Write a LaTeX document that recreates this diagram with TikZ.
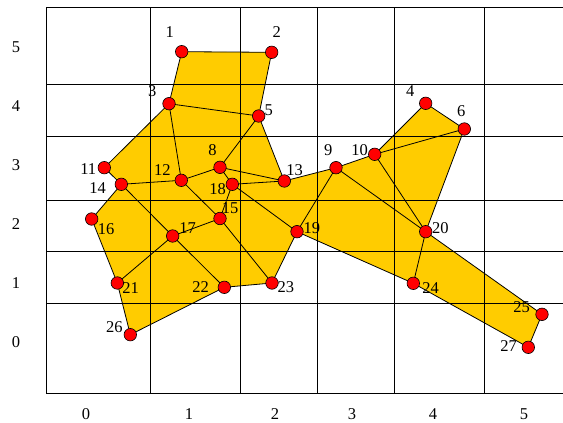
\documentclass[tikz,border=0pt]{standalone}
\usepackage{fontspec}
\setmainfont{Liberation Serif}
\usetikzlibrary{backgrounds}
\definecolor{fillc}{RGB}{255,204,0}
\tikzset{
  vtx/.style={circle,fill=red,draw=black,line width=0.6pt,minimum size=12.5pt,inner sep=0pt},
  lbl/.style={inner sep=0pt,font=\fontsize{16.5}{19}\selectfont},
  gridline/.style={draw=black,line width=0.9pt},
  edge/.style={draw=black,line width=0.8pt}
}
\begin{document}
\begin{tikzpicture}[x=1pt,y=-1pt]
\useasboundingbox (0,0) rectangle (563,423);
% vertices
\node[vtx] (n1) at (181.7,51.7) {};
\node[vtx] (n2) at (271.7,52.3) {};
\node[vtx] (n3) at (169,103.7) {};
\node[vtx] (n4) at (425.7,103.3) {};
\node[vtx] (n5) at (258.7,116) {};
\node[vtx] (n6) at (464.3,129) {};
\node[vtx] (n8) at (220,167.3) {};
\node[vtx] (n9) at (336,167.7) {};
\node[vtx] (n10) at (374.7,154.3) {};
\node[vtx] (n11) at (104.3,167.7) {};
\node[vtx] (n12) at (181.3,180.3) {};
\node[vtx] (n13) at (284.3,181) {};
\node[vtx] (n14) at (121.3,184.3) {};
\node[vtx] (n15) at (220,218.5) {};
\node[vtx] (n16) at (91.7,219) {};
\node[vtx] (n17) at (172.7,236) {};
\node[vtx] (n18) at (232.3,184.3) {};
\node[vtx] (n19) at (297,231.7) {};
\node[vtx] (n20) at (425.7,231.7) {};
\node[vtx] (n21) at (117.3,283) {};
\node[vtx] (n22) at (224.3,287.3) {};
\node[vtx] (n23) at (272,283) {};
\node[vtx] (n24) at (413.3,283.3) {};
\node[vtx] (n25) at (542,314.3) {};
\node[vtx] (n26) at (130.3,334.7) {};
\node[vtx] (n27) at (528.3,347.3) {};
% vertex labels
\node[lbl] (t1) at (169.7,31.7) {1};
\node[lbl] (t2) at (276.7,31.7) {2};
\node[lbl] (t3) at (152.3,90.7) {3};
\node[lbl] (t4) at (410.3,90.7) {4};
\node[lbl] (t5) at (268.7,110) {5};
\node[lbl] (t6) at (461.3,110.7) {6};
\node[lbl] (t8) at (212.5,150) {8};
\node[lbl] (t9) at (328.3,149.7) {9};
\node[lbl] (t10) at (359.7,149.7) {10};
\node[lbl] (t11) at (88.3,169) {11};
\node[lbl] (t12) at (162.3,170) {12};
\node[lbl] (t13) at (294.5,170) {13};
\node[lbl] (t14) at (97.7,188.3) {14};
\node[lbl] (t15) at (230,208.3) {15};
\node[lbl] (t16) at (106,228.7) {16};
\node[lbl] (t17) at (187.5,228.5) {17};
\node[lbl] (t18) at (217.5,189) {18};
\node[lbl] (t19) at (311.8,228.3) {19};
\node[lbl] (t20) at (440.3,227.7) {20};
\node[lbl] (t21) at (130.7,288.3) {21};
\node[lbl] (t22) at (200.5,287) {22};
\node[lbl] (t23) at (285.8,286.8) {23};
\node[lbl] (t24) at (430.7,287.7) {24};
\node[lbl] (t25) at (521.7,307) {25};
\node[lbl] (t26) at (114.3,326.7) {26};
\node[lbl] (t27) at (508.7,346) {27};
% axis labels
\node[lbl] (y5) at (16,47) {5};
\node[lbl] (y4) at (16,106) {4};
\node[lbl] (y3) at (16,165) {3};
\node[lbl] (y2) at (16,224) {2};
\node[lbl] (y1) at (16,283) {1};
\node[lbl] (y0) at (16,342) {0};
\node[lbl] (x0) at (86,414) {0};
\node[lbl] (x1) at (189,414) {1};
\node[lbl] (x2) at (275,414) {2};
\node[lbl] (x3) at (352,414) {3};
\node[lbl] (x4) at (433,414) {4};
\node[lbl] (x5) at (524,414) {5};
\begin{scope}[on background layer]
% filled region
\fill[fillc] (n1.center) -- (n2.center) -- (n5.center) -- (n13.center) -- (n9.center) -- (n10.center) -- (n4.center) -- (n6.center) -- (n20.center) -- (n25.center) -- (n27.center) -- (n24.center) -- (n19.center) -- (n23.center) -- (n22.center) -- (n26.center) -- (n21.center) -- (n16.center) -- (n14.center) -- (n11.center) -- (n3.center) -- cycle;
% grid
\foreach \gx in {46,150,240,317,394,484} { \draw[gridline] (\gx,7) -- (\gx,393); }
\foreach \gy in {7,84,136,200,251,303,393} { \draw[gridline] (46,\gy) -- (563,\gy); }
% edges
\foreach \a/\b in {1/2,1/3,2/5,3/5,3/11,3/12,5/8,5/13,8/12,8/13,8/18,11/14,12/14,12/15,13/18,13/9,18/15,18/19,14/16,14/17,16/21,17/15,17/21,17/22,15/23,21/26,26/22,22/23,23/19,19/9,9/10,9/20,10/20,10/6,10/4,4/6,6/20,20/24,19/24,20/25,24/27,25/27}
  { \draw[edge] (n\a.center) -- (n\b.center); }
\end{scope}
\end{tikzpicture}
\end{document}
